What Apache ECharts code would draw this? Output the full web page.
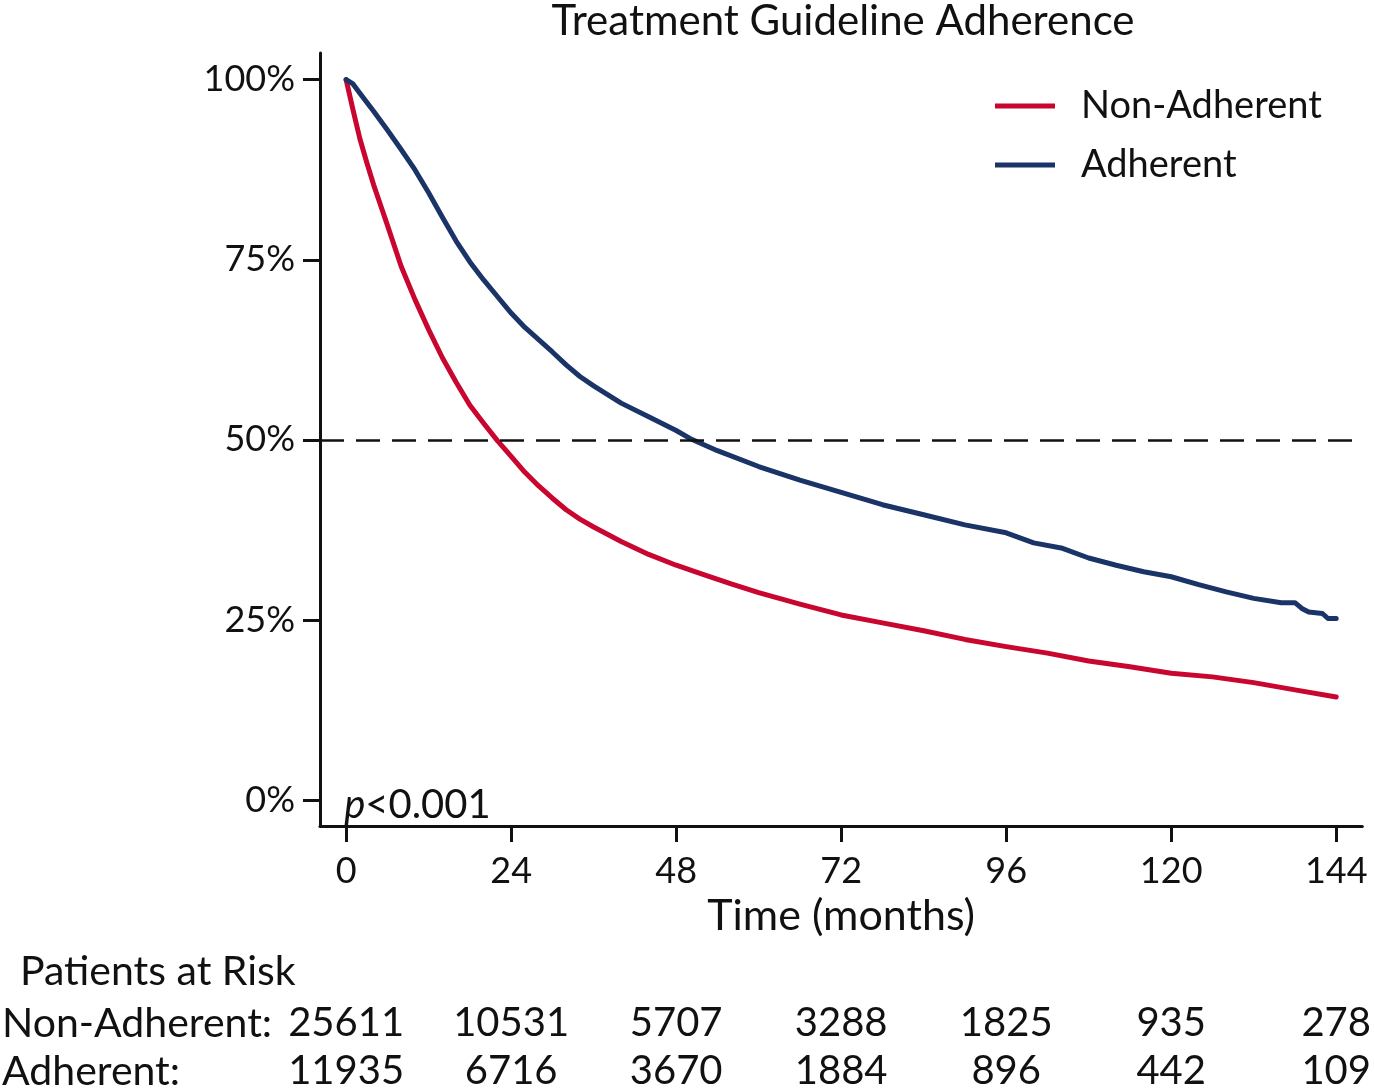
<!DOCTYPE html>
<html>
<head>
<meta charset="utf-8">
<script src="https://cdn.jsdelivr.net/npm/echarts@6/dist/echarts.min.js"></script>
<style>
html,body{margin:0;padding:0;background:#fff;}
#chart{width:1374px;height:1091px;}
</style>
</head>
<body>
<div id="chart"></div>
<script>
// ---- data ----
const seriesNames = ['Non-Adherent', 'Adherent'];
const xTicks = [0, 24, 48, 72, 96, 120, 144];
const yTicks = [0, 25, 50, 75, 100];
const riskNonAdherent = [25611, 10531, 5707, 3288, 1825, 935, 278];
const riskAdherent = [11935, 6716, 3670, 1884, 896, 442, 109];

const redMonths = [0, 1, 2, 3, 4, 5, 6, 8, 10, 12, 14, 16, 18, 20, 22, 24, 26, 28, 30, 32, 34, 36, 40, 44, 48, 52, 56, 60, 66, 72, 78, 84, 90, 96, 102, 108, 114, 120, 126, 132, 138, 144];
const redSurv   = [100, 95.8, 91.8, 88.5, 85.4, 82.6, 79.8, 74.1, 69.5, 65.3, 61.4, 58.0, 54.8, 52.3, 49.9, 47.7, 45.5, 43.6, 41.9, 40.3, 39.0, 37.9, 35.9, 34.1, 32.6, 31.3, 30.0, 28.8, 27.2, 25.7, 24.6, 23.5, 22.3, 21.3, 20.4, 19.3, 18.5, 17.6, 17.1, 16.3, 15.3, 14.3];

const blueMonths = [0, 1, 2, 4, 6, 8, 10, 12, 14, 16, 18, 20, 22, 24, 26, 28, 30, 32, 34, 36, 40, 44, 48, 50, 54, 60, 66, 72, 78, 84, 90, 96, 100, 104, 108, 112, 116, 120, 124, 128, 132, 136, 138, 139, 140, 142, 142.8, 144];
const blueSurv   = [100, 99.4, 98.1, 95.6, 93.0, 90.3, 87.5, 84.3, 80.9, 77.6, 74.7, 72.2, 69.9, 67.6, 65.6, 63.9, 62.2, 60.4, 58.8, 57.5, 55.1, 53.2, 51.3, 50.2, 48.5, 46.3, 44.4, 42.7, 41.0, 39.6, 38.2, 37.1, 35.7, 35.0, 33.6, 32.6, 31.7, 31.0, 29.9, 28.9, 28.0, 27.4, 27.4, 26.6, 26.1, 25.9, 25.2, 25.2];

// ---- build ----
const FONT = 'Lato';
const RED = '#C8062F';
const BLUE = '#1B3467';
const INK = '#111';

const pairs = (xs, ys) => xs.map((x, i) => [x, ys[i]]);

const chart = echarts.init(document.getElementById('chart'), null, {renderer: 'canvas'});

const riskAxis = (offset, arr) => ({
  type: 'value', gridIndex: 0, position: 'bottom', offset: offset,
  min: -3.8, max: 147.8,
  axisLine: {show: false}, axisTick: {show: false}, splitLine: {show: false},
  axisLabel: {
    customValues: xTicks, margin: 10,
    fontFamily: FONT, fontSize: 40, lineHeight: 40, color: INK,
    formatter: v => String(arr[xTicks.indexOf(v)])
  }
});

const option = {
  backgroundColor: '#fff',
  animation: false,
  title: {
    text: 'Treatment Guideline Adherence',
    left: 843, top: 0, textAlign: 'center', padding: 0,
    textStyle: {fontFamily: FONT, fontSize: 42, fontWeight: 'normal', color: INK, lineHeight: 42}
  },
  legend: {
    data: seriesNames,
    orient: 'vertical', left: 995, top: 87, padding: 0,
    icon: 'rect', itemWidth: 60, itemHeight: 5, itemGap: 21,
    textStyle: {fontFamily: FONT, fontSize: 38, lineHeight: 38, color: INK, padding: [0, 0, 0, 21]}
  },
  grid: {left: 320, right: 7, top: 53, bottom: 262, containLabel: false},
  xAxis: [
    {
      type: 'value', min: -3.8, max: 147.8,
      name: 'Time (months)', nameLocation: 'middle', nameGap: 69,
      nameTextStyle: {fontFamily: FONT, fontSize: 43, lineHeight: 43, color: INK},
      axisLine: {onZero: false, lineStyle: {color: INK, width: 3}},
      axisTick: {customValues: xTicks, length: 16, lineStyle: {color: INK, width: 3}},
      axisLabel: {customValues: xTicks, margin: 27, fontFamily: FONT, fontSize: 36, lineHeight: 36, color: INK},
      splitLine: {show: false}
    },
    riskAxis(167, riskNonAdherent),
    riskAxis(215, riskAdherent)
  ],
  yAxis: {
    type: 'value', min: -3.6, max: 103.7,
    axisLine: {show: true, onZero: false, lineStyle: {color: INK, width: 3}},
    axisTick: {show: true, customValues: yTicks, length: 17, lineStyle: {color: INK, width: 3}},
    axisLabel: {customValues: yTicks, margin: 25, fontFamily: FONT, fontSize: 36, color: INK, formatter: v => v + '%'},
    splitLine: {show: false}
  },
  graphic: [
    {type: 'text', left: 20, top: 951, style: {text: 'Patients at Risk', font: '41px Lato', fill: INK}},
    {type: 'text', left: 2, top: 1003, style: {text: 'Non-Adherent:', font: '41px Lato', fill: INK}},
    {type: 'text', left: 2, top: 1051, style: {text: 'Adherent:', font: '41px Lato', fill: INK}}
  ],
  series: [
    {
      name: seriesNames[0], type: 'line', data: pairs(redMonths, redSurv),
      showSymbol: false, symbol: 'none', color: RED,
      lineStyle: {color: RED, width: 5, join: 'round', cap: 'round'},
      markLine: {
        silent: true, symbol: 'none', label: {show: false},
        lineStyle: {color: INK, width: 2.5, type: [24, 12]},
        data: [{yAxis: 50}]
      },
      z: 3
    },
    {
      name: seriesNames[1], type: 'line', data: pairs(blueMonths, blueSurv),
      showSymbol: false, symbol: 'none', color: BLUE,
      lineStyle: {color: BLUE, width: 5, join: 'round', cap: 'round'},
      z: 4
    },
    {
      name: 'pvalue', type: 'scatter', data: [[0, 0]], symbolSize: 0, silent: true,
      itemStyle: {opacity: 1},
      label: {
        show: true, position: 'right', distance: 0, offset: [-2, 5], color: INK, opacity: 1,
        formatter: '{i|p}{n|<0.001}',
        rich: {
          i: {fontFamily: FONT, fontSize: 40, fontStyle: 'italic', color: INK},
          n: {fontFamily: FONT, fontSize: 40, color: INK}
        }
      }
    }
  ]
};
chart.setOption(option);
</script>
</body>
</html>
